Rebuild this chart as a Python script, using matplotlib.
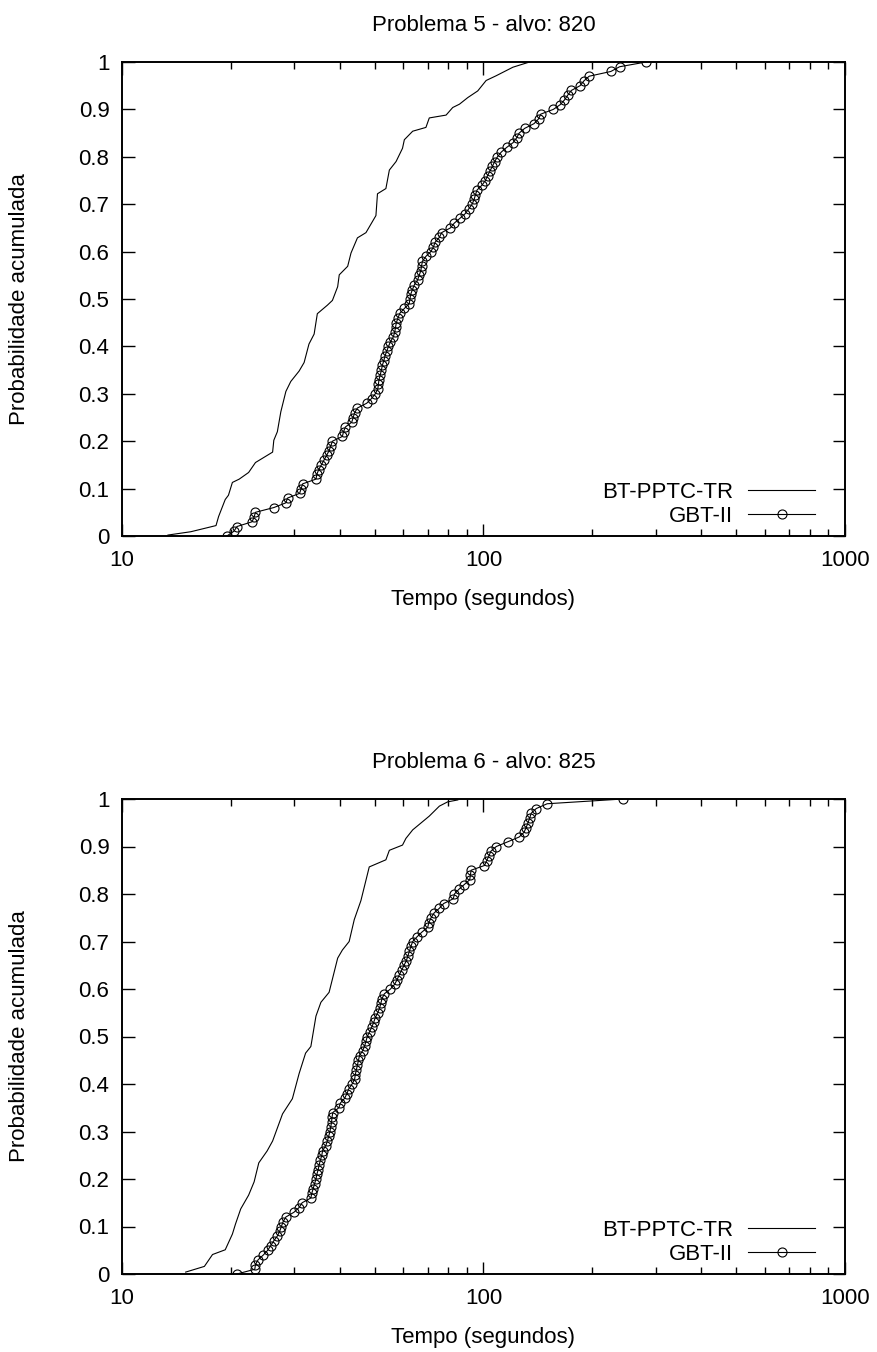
import matplotlib
matplotlib.use("Agg")
import matplotlib.pyplot as plt
from matplotlib.ticker import LogLocator, FixedLocator, NullFormatter

plt.rcParams['font.family'] = ['Liberation Sans', 'DejaVu Sans']

# ---------------- data ----------------
titles = ["Problema 5 - alvo: 820", "Problema 6 - alvo: 825"]
series_names = ["BT-PPTC-TR", "GBT-II"]
x_label = "Tempo (segundos)"
y_label = "Probabilidade acumulada"

# Problema 5 - BT-PPTC-TR (line only)
p5_bt_t = [13.4, 15.5, 18.2, 18.5, 19.3, 19.7, 20.2, 21.1, 22.4, 23.4, 26.1, 26.3, 26.9, 27.5,
           28.4, 29.3, 30.9, 31.9, 32.9, 34.0, 34.7, 37.0, 38.2, 39.5, 39.9, 42.1, 43.0, 44.8,
           47.3, 50.4, 50.9, 53.7, 54.9, 57.3, 59.7, 60.4, 63.7, 69.3, 70.8, 78.8, 82.2, 85.8,
           90.5, 96.4, 101.7, 108.4, 120.6, 134.1]
p5_bt_p = [0.002, 0.009, 0.022, 0.041, 0.077, 0.086, 0.113, 0.120, 0.134, 0.155, 0.177, 0.202,
           0.220, 0.262, 0.305, 0.326, 0.348, 0.366, 0.405, 0.426, 0.469, 0.487, 0.497, 0.526,
           0.551, 0.569, 0.597, 0.629, 0.640, 0.676, 0.722, 0.733, 0.772, 0.790, 0.818, 0.836,
           0.854, 0.862, 0.882, 0.888, 0.904, 0.911, 0.925, 0.939, 0.961, 0.971, 0.989, 1.000]

# Problema 5 - GBT-II (line with circles)
p5_gbt_t = [19.5, 20.4, 20.8, 22.9, 23.2, 23.4, 26.3, 28.4, 28.7, 31.0,
            31.3, 31.6, 34.4, 34.6, 35.0, 35.6, 36.2, 36.8, 37.4, 37.8,
            38.2, 40.7, 41.0, 41.5, 43.2, 43.6, 44.0, 44.8, 47.5, 49.0,
            50.2, 51.0, 51.2, 51.4, 51.8, 52.2, 52.5, 53.0, 53.4, 54.0,
            54.6, 55.3, 56.3, 56.8, 57.1, 57.4, 58.0, 58.7, 60.4, 62.3,
            62.6, 62.9, 63.6, 64.4, 65.7, 66.4, 67.1, 67.4, 67.8, 69.3,
            71.5, 72.7, 73.5, 75.5, 76.6, 81.0, 83.0, 86.0, 89.0, 91.0,
            93.0, 94.2, 95.0, 96.0, 99.0, 101.2, 102.6, 104.2, 105.8, 107.4,
            109.3, 112.0, 116.0, 120.8, 123.5, 125.5, 130.0, 138.0, 142.0, 144.0,
            156.0, 163.0, 167.5, 171.0, 175.0, 185.0, 189.5, 196.0, 225.0, 238.0,
            281.7]
p5_gbt_p = [0.00, 0.01, 0.02, 0.03, 0.04, 0.05, 0.06, 0.07, 0.08, 0.09,
            0.10, 0.11, 0.12, 0.13, 0.14, 0.15, 0.16, 0.17, 0.18, 0.19,
            0.20, 0.21, 0.22, 0.23, 0.24, 0.25, 0.26, 0.27, 0.28, 0.29,
            0.30, 0.31, 0.32, 0.33, 0.34, 0.35, 0.36, 0.37, 0.38, 0.39,
            0.40, 0.41, 0.42, 0.43, 0.44, 0.45, 0.46, 0.47, 0.48, 0.49,
            0.50, 0.51, 0.52, 0.53, 0.54, 0.55, 0.56, 0.57, 0.58, 0.59,
            0.60, 0.61, 0.62, 0.63, 0.64, 0.65, 0.66, 0.67, 0.68, 0.69,
            0.70, 0.71, 0.72, 0.73, 0.74, 0.75, 0.76, 0.77, 0.78, 0.79,
            0.80, 0.81, 0.82, 0.83, 0.84, 0.85, 0.86, 0.87, 0.88, 0.89,
            0.90, 0.91, 0.92, 0.93, 0.94, 0.95, 0.96, 0.97, 0.98, 0.99,
            1.00]

# Problema 6 - BT-PPTC-TR (line only)
p6_bt_t = [15.0, 16.9, 17.8, 19.3, 20.2, 20.6, 21.3, 22.4, 23.2, 23.9, 25.2, 26.1, 27.8,
           29.6, 30.9, 32.2, 33.3, 34.4, 35.5, 37.4, 39.5, 40.7, 42.5, 43.9, 45.8, 48.3,
           53.7, 54.9, 59.7, 61.0, 63.7, 70.8, 75.5, 79.6, 84.9]
p6_bt_p = [0.004, 0.016, 0.041, 0.051, 0.084, 0.105, 0.137, 0.166, 0.194, 0.234, 0.259,
           0.280, 0.337, 0.369, 0.422, 0.465, 0.479, 0.543, 0.572, 0.593, 0.665, 0.682,
           0.700, 0.746, 0.786, 0.857, 0.872, 0.892, 0.903, 0.917, 0.935, 0.964, 0.985,
           0.994, 0.998]

# Problema 6 - GBT-II (line with circles)
p6_gbt_t = [20.8, 23.3, 23.4, 23.8, 24.6, 25.3, 25.8, 26.3, 26.9, 27.3,
            27.6, 27.9, 28.4, 29.9, 30.9, 31.5, 33.3, 33.5, 33.8, 34.1,
            34.4, 34.6, 34.9, 35.1, 35.4, 35.7, 35.9, 36.6, 37.0, 37.3,
            37.6, 37.8, 38.0, 38.1, 38.3, 39.8, 40.2, 41.3, 41.9, 42.4,
            43.3, 44.0, 44.2, 44.5, 44.8, 45.1, 45.4, 46.3, 46.9, 47.3,
            47.7, 48.4, 49.1, 49.7, 50.2, 51.0, 51.6, 52.0, 52.4, 53.2,
            55.3, 56.8, 57.7, 58.5, 59.4, 60.3, 61.2, 61.8, 62.4, 63.0,
            63.7, 65.5, 67.6, 70.1, 70.6, 71.6, 73.0, 75.5, 77.6, 82.5,
            83.1, 85.5, 88.5, 91.6, 92.0, 92.4, 100.6, 102.0, 103.5, 104.8,
            108.5, 116.8, 125.5, 129.5, 131.2, 132.8, 134.2, 135.5, 140.0, 150.0,
            243.0]
p6_gbt_p = list(p5_gbt_p)

panels = [
    (titles[0], p5_bt_t, p5_bt_p, p5_gbt_t, p5_gbt_p),
    (titles[1], p6_bt_t, p6_bt_p, p6_gbt_t, p6_gbt_p),
]

y_ticks = [0.0, 0.1, 0.2, 0.3, 0.4, 0.5, 0.6, 0.7, 0.8, 0.9, 1.0]
y_tick_labels = ["0", "0.1", "0.2", "0.3", "0.4", "0.5", "0.6", "0.7", "0.8", "0.9", "1"]
x_ticks = [10, 100, 1000]
x_tick_labels = ["10", "100", "1000"]

# ---------------- figure ----------------
W, H = 878, 1352
fig = plt.figure(figsize=(W / 100, H / 100), dpi=100)

# axes boxes in pixels: (left, top, right, bottom)
boxes = [(122, 62, 845, 536), (122, 799, 845, 1274)]

FS = 16
for (title, bt_t, bt_p, gb_t, gb_p), (l, t, r, b) in zip(panels, boxes):
    ax = fig.add_axes([l / W, 1 - b / H, (r - l) / W, (b - t) / H])
    ax.plot(bt_t, bt_p, color='black', lw=0.8, label=series_names[0])
    ax.plot(gb_t, gb_p, color='black', lw=0.8, marker='o', markersize=6.5,
            markerfacecolor='none', markeredgecolor='black', markeredgewidth=0.8,
            label=series_names[1])
    ax.set_xscale('log')
    ax.set_xlim(10, 1000)
    ax.set_ylim(0, 1)
    ax.xaxis.set_major_locator(FixedLocator(x_ticks))
    ax.set_xticklabels(x_tick_labels)
    ax.xaxis.set_minor_locator(LogLocator(base=10, subs=[2, 3, 4, 5, 6, 7, 8, 9]))
    ax.xaxis.set_minor_formatter(NullFormatter())
    ax.set_yticks(y_ticks)
    ax.set_yticklabels(y_tick_labels)
    ax.tick_params(which='major', direction='in', length=9, width=1.0,
                   top=True, right=True, labelsize=FS)
    ax.tick_params(which='minor', direction='in', length=5, width=1.0,
                   top=True, right=True)
    ax.tick_params(axis='y', pad=9)
    ax.tick_params(axis='x', pad=10)
    for s in ax.spines.values():
        s.set_linewidth(1.4)
    ax.set_title(title, fontsize=FS, pad=22)
    ax.set_xlabel(x_label, fontsize=FS)
    ax.xaxis.set_label_coords(0.5, -0.112)
    ax.set_ylabel(y_label, fontsize=FS)
    ax.yaxis.set_label_coords(-0.127, 0.5)
    ax.legend(loc='lower right', frameon=False, markerfirst=False, numpoints=1,
              fontsize=FS, handlelength=3.0, handletextpad=0.7, labelspacing=0.15,
              borderaxespad=0.0, bbox_to_anchor=(0.971, 0.0))

fig.savefig("out.png", dpi=100)
